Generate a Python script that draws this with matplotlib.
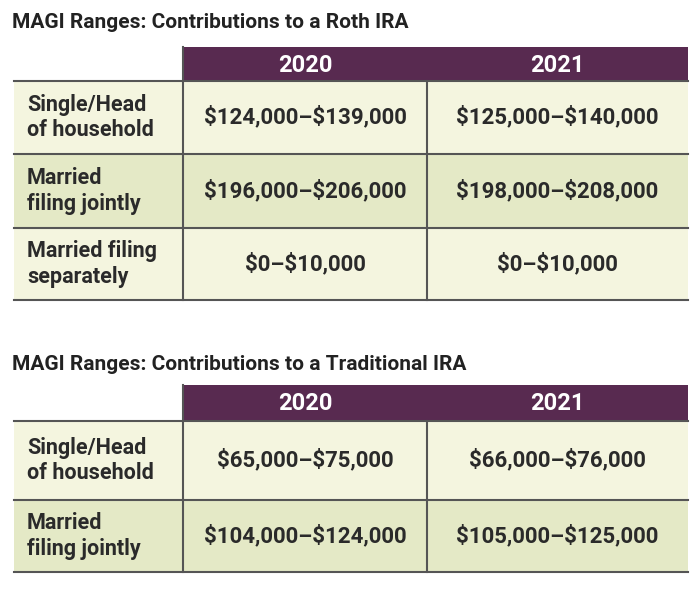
import matplotlib
matplotlib.use("Agg")
import matplotlib.pyplot as plt
from matplotlib.patches import Rectangle

plt.rcParams["text.parse_math"] = False

years = ["2020", "2021"]
roth_title = "MAGI Ranges: Contributions to a Roth IRA"
roth_rows = ["Single/Head\nof household", "Married\nfiling jointly", "Married filing\nseparately"]
roth_2020 = ["$124,000–$139,000", "$196,000–$206,000", "$0–$10,000"]
roth_2021 = ["$125,000–$140,000", "$198,000–$208,000", "$0–$10,000"]
trad_title = "MAGI Ranges: Contributions to a Traditional IRA"
trad_rows = ["Single/Head\nof household", "Married\nfiling jointly"]
trad_2020 = ["$65,000–$75,000", "$104,000–$124,000"]
trad_2021 = ["$66,000–$76,000", "$105,000–$125,000"]

PURPLE = "#582a50"
LIGHT = "#f4f5df"
DARK = "#e4e9c6"
LINE = "#555555"
FONT = "Roboto"

fig = plt.figure(figsize=(7, 5.91), dpi=100)
ax = fig.add_axes([0, 0, 1, 1])
ax.set_xlim(0, 700)
ax.set_ylim(591, 0)
ax.axis("off")

x0, x1, x2, x3 = 14, 183, 427, 688

def table(title, ty, hy0, hy1, row_edges, labels, c1, c2):
    ax.text(12, ty, title, fontsize=15, fontweight="bold", family=FONT,
            color="#222222", va="center", ha="left")
    ax.add_patch(Rectangle((x1, hy0), x3 - x1, hy1 - hy0, color=PURPLE, lw=0))
    for yr, (a, b) in zip(years, [(x1, x2), (x2, x3)]):
        ax.text((a + b) / 2, (hy0 + hy1) / 2 + 1, yr, color="white", fontsize=17,
                fontweight="bold", family=FONT, ha="center", va="center")
    for i, lab in enumerate(labels):
        ya, yb = row_edges[i], row_edges[i + 1]
        ax.add_patch(Rectangle((x0, ya), x3 - x0, yb - ya,
                               color=LIGHT if i % 2 == 0 else DARK, lw=0))
        ym = (ya + yb) / 2
        ax.text(27, ym, lab, fontsize=15.5, fontweight="bold", family=FONT,
                color="#2a2a2a", ha="left", va="center", linespacing=1.2)
        ax.text((x1 + x2) / 2, ym, c1[i], fontsize=16, fontweight="bold", family=FONT,
                color="#2a2a2a", ha="center", va="center")
        ax.text((x2 + x3) / 2, ym, c2[i], fontsize=16, fontweight="bold", family=FONT,
                color="#2a2a2a", ha="center", va="center")
    for y in row_edges:
        ax.plot([x0, x3], [y, y], color=LINE, lw=1.5)
    ax.plot([x1, x1], [hy0, row_edges[-1]], color=LINE, lw=1.5)
    ax.plot([x2, x2], [hy1, row_edges[-1]], color=LINE, lw=1.5)

table(roth_title, 22, 47, 81, [81, 154, 228, 300], roth_rows, roth_2020, roth_2021)
table(trad_title, 365, 385, 421, [421, 500, 572], trad_rows, trad_2020, trad_2021)

fig.savefig("out.png", dpi=100, facecolor="white")
